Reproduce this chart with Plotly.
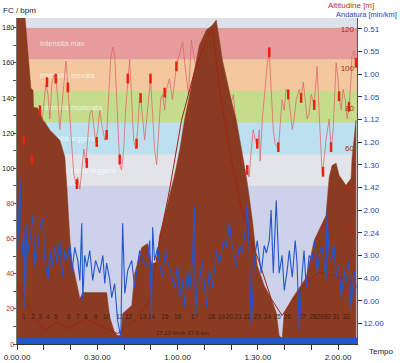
import plotly.graph_objects as go

# ---------------- data (time in minutes) ----------------
hr_t = [0.0,1.1,2.6,3.7,4.8,5.6,6.7,7.8,8.6,9.3,
        10.1,10.8,11.6,12.3,13.0,13.8,14.5,15.3,16.0,16.8,
        17.5,18.3,19.0,19.8,20.5,21.2,22.0,22.7,23.5,24.2,
        25.0,25.7,26.5,27.2,28.0,28.7,29.4,30.2,30.9,31.7,
        32.8,33.5,34.3,35.0,35.8,36.5,37.3,38.0,38.4,39.1,
        39.9,40.6,41.4,42.1,42.9,43.6,44.4,45.1,45.8,46.2,
        47.0,47.7,48.5,49.2,49.9,50.7,51.4,52.2,52.9,53.7,
        54.4,55.2,55.9,57.0,58.1,58.9,59.6,60.8,61.9,63.0,
        64.1,65.2,66.3,68.2,70.1,71.9,73.8,75.7,77.5,79.4,
        80.9,82.0,83.1,84.2,85.0,85.7,86.8,87.6,88.3,89.1,
        89.8,90.6,90.9,91.7,92.4,93.2,93.6,94.3,95.0,95.8,
        96.5,97.7,98.4,99.1,99.9,100.6,101.4,102.1,102.9,103.6,
        104.4,105.5,106.2,107.0,107.7,108.5,109.2,110.0,111.1,111.8,
        112.2,112.9,113.7,114.1,114.8,115.5,116.7,117.4,118.2,118.9,
        119.3,120.0,120.4,121.2,121.9,122.7,123.4,124.1,124.9,125.2,
        126.0,126.7]
hr_v = [122,116,118,111,105,106,116,128,133,125,
        139,148,142,128,148,153,151,139,122,136,
        151,161,146,128,111,97,91,95,88,99,
        111,103,119,131,133,122,115,122,133,125,
        116,119,139,162,169,165,139,111,102,99,
        111,133,151,162,139,116,111,122,139,140,
        128,116,128,142,151,131,111,102,122,139,
        142,133,145,151,139,148,158,165,172,156,
        142,173,162,150,156,145,153,139,148,133,
        142,122,105,96,92,99,95,111,122,116,
        112,122,104,128,139,150,160,166,145,122,
        114,111,125,139,133,145,142,133,122,128,
        139,145,140,149,139,128,131,142,136,150,
        158,133,111,97,105,116,128,111,122,145,
        160,151,141,133,145,139,128,135,151,164,
        167,160]

hr_mark_t = [2.6,5.6,8.6,11.2,14.5,19.0,22.4,26.1,29.8,33.5,
             38.4,41.4,44.7,46.2,49.9,55.2,59.6,86.1,89.8,94.3,
             97.7,101.4,106.2,111.1,114.4,117.4,120.4,124.1,126.7]
hr_mark_v = [116,105,133,149,151,146,91,103,115,119,
             105,151,114,140,151,143,158,99,114,166,
             112,142,140,136,98,112,141,135,160]

alt_t = [0.0,3.0,3.7,4.5,5.2,6.0,6.2,7.8,9.7,10.4,
         12.3,14.2,16.0,16.8,17.9,18.6,19.0,19.4,19.8,20.5,
         22.4,23.5,24.6,33.5,34.7,36.5,37.6,38.8,39.5,42.9,
         44.0,46.6,48.8,50.3,52.2,53.3,55.2,57.0,58.9,60.8,
         62.6,64.5,66.3,68.2,70.8,73.1,74.5,75.7,76.8,80.1,
         82.0,84.2,86.1,88.0,88.7,89.8,92.4,95.0,96.9,98.0,
         99.1,99.9,102.9,108.1,111.1,113.7,115.5,116.7,117.8,119.3,
         120.4,123.0,124.9,125.2,126.0,126.7]
alt_v = [126,126,114.4,100.8,90.1,89.1,80.5,80.0,73.9,72.9,
         68.9,66.3,63.8,60.3,55.2,41.0,30.9,20.8,13.2,3.0,
         -8.6,-16.2,-13.2,-13.2,-25.8,-33.4,-34.9,-34.9,-23.8,-19.7,
         -3.5,9.6,11.6,1.5,2.0,15.7,25.8,35.9,46.1,58.7,
         73.9,86.6,99.2,111.9,119.5,122.0,124.6,114.4,104.3,84.1,
         73.9,57.2,42.0,23.3,13.2,0.5,-9.6,-16.2,-23.3,-34.9,
         -36.5,-23.3,-16.2,-5.6,13.2,20.8,25.8,45.1,51.1,52.2,
         46.1,41.0,44.6,53.7,63.8,73.9]

trend_t = [0.0,3.0,6.7,10.4,14.2,19.8,25.3,30.9,37.6,44.0,
           49.6,53.3,57.0,61.5,66.3,70.8,73.1,75.7,79.4,83.1,
           86.8,90.6,95.0,99.1,102.5,108.1,112.9,118.5,124.1,126.7]
trend_v = [-8.1,-17.2,-26.3,-32.4,-28.4,-31.4,-26.3,-29.9,-33.9,-27.3,
           -17.2,13.2,38.5,73.9,98.2,114.4,120.5,89.1,58.7,33.4,
           15.7,2.0,-16.2,-24.8,-18.2,-8.1,-3.0,-4.6,-7.1,-9.6]

speed_t = [0.0,0.4,1.1,1.9,2.6,3.0,3.7,4.1,4.8,6.0,
           6.7,7.8,8.6,9.7,10.4,11.6,12.3,13.0,14.2,14.9,
           16.0,16.8,17.9,18.6,19.8,20.5,21.6,22.7,23.5,24.2,
           24.6,25.3,26.1,27.2,28.3,29.4,30.9,32.1,32.8,33.5,
           34.7,35.4,36.5,37.6,38.8,39.5,40.3,41.4,42.9,44.0,
           45.8,47.3,48.5,49.6,50.3,50.7,51.4,52.6,53.3,54.4,
           55.5,56.3,57.8,58.9,60.0,60.8,61.9,62.6,63.7,64.5,
           65.6,66.3,66.7,67.5,68.2,69.3,70.8,71.9,73.1,74.5,
           75.7,77.2,78.3,79.4,80.1,81.3,82.0,83.1,84.2,85.4,
           86.1,86.8,87.6,88.7,89.8,91.3,92.4,93.2,94.3,95.0,
           95.8,96.9,97.7,98.0,99.1,99.9,101.0,101.8,102.9,104.0,
           104.7,105.5,106.6,107.3,108.1,109.2,110.3,111.4,112.2,113.3,
           114.1,114.8,115.5,115.9,116.7,117.4,118.5,119.3,120.4,121.2,
           122.3,123.0,124.1,124.9,126.0,126.7]
speed_v = [21.1,23.3,37.1,19.6,25.6,8.5,27.1,20.5,23.3,28.9,
           17.4,21.8,26.2,28.2,18.9,14.5,21.1,17.4,22.2,18.3,
           23.3,15.2,21.1,18.9,22.2,16.1,21.8,18.9,14.5,27.1,
           10.1,20.0,17.4,21.1,14.5,18.9,16.1,20.0,13.8,18.3,
           14.5,10.7,13.8,5.7,1.9,27.1,11.6,16.7,18.9,12.9,
           21.1,18.5,17.4,23.3,5.7,26.2,18.9,21.8,17.8,15.2,
           21.1,18.9,15.6,12.9,17.8,10.7,14.5,8.5,16.7,12.3,
           18.9,31.1,6.3,14.5,14.5,18.9,8.5,16.7,12.9,21.1,
           18.3,23.3,21.8,27.3,23.3,20.0,17.4,22.2,20.5,25.6,
           31.5,21.1,4.1,18.9,23.3,16.1,22.2,20.5,23.3,30.0,
           16.1,32.2,18.9,16.1,20.0,12.3,16.7,21.1,15.2,23.3,
           18.3,3.4,16.1,21.1,12.9,20.0,18.9,23.3,16.1,21.1,
           21.8,17.8,14.5,30.0,20.0,18.9,22.2,15.2,17.8,10.7,
           16.7,13.8,18.9,7.9,16.7,12.9]

lap_t = [2.5,6.0,8.6,11.5,14.5,19.4,22.7,25.7,29.4,33.5,
         38.4,41.7,47.0,50.3,55.2,60.0,66.3,72.7,76.4,79.4,
         82.7,86.1,89.8,93.6,97.3,101.0,106.6,110.7,113.3,115.9,
         119.3,123.0]
lap_labels = ["1","2","3","4","5","6","7","8","9","10",
              "11","12","13","14","15","16","17","18","19","20",
              "21","22","23","24","25","26","27","28","29","30",
              "31","32"]

zone_low = [0, 90, 108, 126, 144, 162, 180]
zone_high = [90, 108, 126, 144, 162, 180, 185.5]
zone_names = ["", "Intensità molto leggera", "Intensità leggera", "Intensità moderata",
              "Intensità elevata", "Intensità max", ""]
zone_colors = ["#cdd2ea", "#e3e4ea", "#bde0f0", "#c5dc8c", "#f4c89e", "#e69c9c", "#dde2ea"]

hr_ticks = [0, 20, 40, 60, 80, 100, 120, 140, 160, 180]
alt_ticks = [20, 40, 60, 80, 100, 120]
pace_speed = [70, 65, 60, 55, 50, 45, 40, 35, 30, 25, 20, 15, 10, 5]
pace_labels = ["0.51", "0.55", "1.00", "1.05", "1.12", "1.20", "1.30", "1.42",
               "2.00", "2.24", "3.00", "4.00", "6.00", "12.00"]
time_ticks = [0, 30, 60, 90, 120]
time_labels = ["0.00.00", "0.30.00", "1.00.00", "1.30.00", "2.00.00"]

HR_RANGE = [0, 185.5]
ALT_RANGE = [-39.2, 125.6]
SPD_RANGE = [0.46, 72.4]
T_RANGE = [0, 127.1]

FONT = "Liberation Sans, Arial, sans-serif"
BROWN = "#8b3b22"

fig = go.Figure()

# HR line (hidden behind altitude where they overlap)
fig.add_trace(go.Scatter(x=hr_t, y=hr_v, mode="lines", yaxis="y",
                         line=dict(color="#e06a6a", width=0.8), hoverinfo="skip"))

# altitude filled area down to axis bottom
poly_x = alt_t + [alt_t[-1], alt_t[0]]
poly_y = alt_v + [ALT_RANGE[0], ALT_RANGE[0]]
fig.add_trace(go.Scatter(x=poly_x, y=poly_y, mode="lines", fill="toself", yaxis="y2",
                         fillcolor=BROWN, line=dict(color=BROWN, width=0.5), hoverinfo="skip"))
fig.add_trace(go.Scatter(x=trend_t, y=trend_v, mode="lines", yaxis="y2",
                         line=dict(color="#9e2414", width=1), hoverinfo="skip"))

# HR markers + lap numbers
fig.add_trace(go.Scatter(x=hr_mark_t, y=hr_mark_v, mode="markers", yaxis="y3",
                         marker=dict(symbol="line-ns", size=7,
                                     line=dict(color="#e8220e", width=2.5)),
                         hoverinfo="skip"))
fig.add_trace(go.Scatter(x=lap_t, y=[15] * len(lap_t), mode="text", yaxis="y3",
                         text=lap_labels, textfont=dict(family=FONT, size=6.5, color="#3a2214"),
                         hoverinfo="skip"))

# speed
fig.add_trace(go.Scatter(x=speed_t, y=speed_v, mode="lines", yaxis="y4",
                         line=dict(color="#2456cc", width=1.1), hoverinfo="skip"))

shapes = []
for lo, hi, name, col in zip(zone_low, zone_high, zone_names, zone_colors):
    shp = dict(type="rect", xref="x domain", x0=0, x1=1, yref="y", y0=lo, y1=hi,
               fillcolor=col, line=dict(width=0), layer="below")
    if name:
        shp["label"] = dict(text=name, textposition="middle left", padding=20,
                            font=dict(family=FONT, size=7.5, color="rgba(255,255,255,0.75)"))
    shapes.append(shp)
shapes.append(dict(type="rect", xref="x domain", x0=0, x1=1, yref="y", y0=0, y1=3.7,
                   fillcolor="#2356c8", line=dict(width=0), layer="above"))

hr_ticktext = []
for v in hr_ticks:
    c = "#222222" if v >= 100 else "#c8321e"
    hr_ticktext.append('<span style="color:%s">%d</span>' % (c, v))

fig.update_layout(
    width=400, height=363,
    margin=dict(l=17, r=43, t=18, b=19, autoexpand=False),
    paper_bgcolor="#ffffff", plot_bgcolor="#cdd2ea",
    showlegend=False,
    font=dict(family=FONT, size=8, color="#222"),
    shapes=shapes,
    xaxis=dict(range=T_RANGE, tickmode="array", tickvals=time_ticks, ticktext=time_labels,
               ticks="outside", ticklen=5, tickcolor="#333", showline=True, linecolor="#333",
               linewidth=1, showgrid=False, zeroline=False, automargin=False,
               tickfont=dict(size=8, color="#222"),
               minor=dict(tickmode="linear", tick0=0, dtick=10, ticks="outside", ticklen=5,
                          tickcolor="#333")),
    yaxis=dict(range=HR_RANGE, tickmode="array", tickvals=hr_ticks, ticktext=hr_ticktext,
               ticks="outside", ticklen=3, tickcolor="#555", showline=True, linecolor="#777",
               showgrid=False, zeroline=False, automargin=False, tickfont=dict(size=7.5),
               ticklabelstandoff=-3,
               minor=dict(tickmode="linear", tick0=0, dtick=10, ticks="outside", ticklen=3,
                          tickcolor="#555")),
    yaxis2=dict(range=ALT_RANGE, overlaying="y", side="right", anchor="x",
                tickmode="array", tickvals=alt_ticks, ticklabelposition="inside",
                ticks="", showgrid=False, zeroline=False, showline=False, automargin=False,
                tickfont=dict(size=8, color="#b3261a")),
    yaxis3=dict(range=HR_RANGE, overlaying="y", visible=False),
    yaxis4=dict(range=SPD_RANGE, overlaying="y", side="right", anchor="x",
                tickmode="array", tickvals=pace_speed, ticktext=pace_labels,
                ticks="outside", ticklen=4, tickcolor="#333", showline=True, linecolor="#555",
                showgrid=False, zeroline=False, automargin=False,
                tickfont=dict(size=8, color="#1c45b5")),
    annotations=[
        dict(text="FC / bpm", xref="paper", yref="paper", x=-0.047, y=1.0215,
             xanchor="left", yanchor="middle", showarrow=False,
             font=dict(size=8, color="#222")),
        dict(text="Altitudine [m]", xref="paper", yref="paper", x=1.056, y=1.038,
             xanchor="right", yanchor="middle", showarrow=False,
             font=dict(size=8, color="#c0301c")),
        dict(text="Andatura [min/km]", xref="paper", yref="paper", x=1.123, y=1.012,
             xanchor="right", yanchor="middle", showarrow=False,
             font=dict(size=7.5, color="#1c45b5")),
        dict(text="Tempo", xref="paper", yref="paper", x=1.0294, y=-0.023,
             xanchor="left", yanchor="middle", showarrow=False,
             font=dict(size=8, color="#222")),
        dict(text="17.10 km/h 37.6 km", xref="x", yref="y", x=72.7, y=6,
             xanchor="right", yanchor="middle", showarrow=False,
             font=dict(size=6, color="#3a2214")),
    ],
)

fig.write_html("out.html", config={"displayModeBar": False},
               post_script="document.body.style.margin='0';document.body.style.padding='0';"
                           "document.body.style.overflow='hidden';")
